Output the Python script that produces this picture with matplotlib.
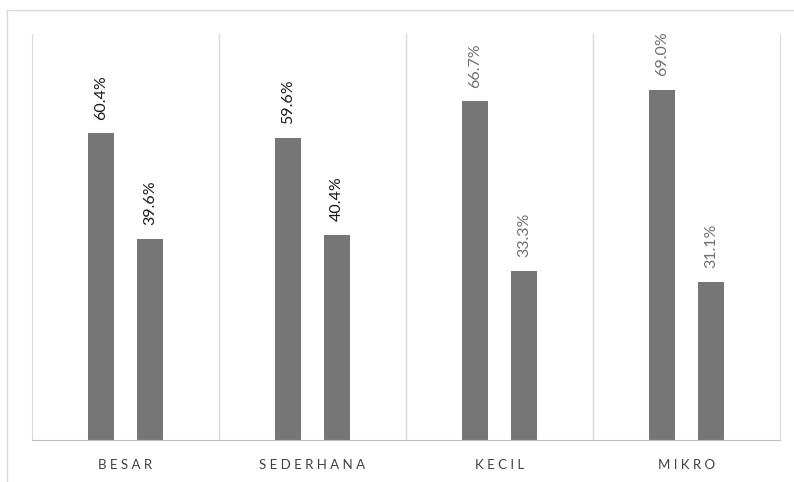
import matplotlib.pyplot as plt
from matplotlib.lines import Line2D
import numpy as np

categories = ['BESAR', 'SEDERHANA', 'KECIL', 'MIKRO']
first_share = [60.4, 59.6, 66.7, 69.0]
second_share = [39.6, 40.4, 33.3, 31.1]
label_colors = ['#1a1a1a', '#1a1a1a', '#707070', '#707070']

plt.rcParams['font.family'] = ['Lato', 'DejaVu Sans']

fig = plt.figure(figsize=(7.94, 4.82), dpi=100)
ax = fig.add_axes([32 / 794, 42 / 482, 748 / 794, 406 / 482])

x = np.arange(len(categories))
width = 0.134
offset = 0.131
bar_color = '#767676'

bars1 = ax.bar(x - offset, first_share, width, color=bar_color)
bars2 = ax.bar(x + offset, second_share, width, color=bar_color)

for bars, vals in [(bars1, first_share), (bars2, second_share)]:
    for b, v, c in zip(bars, vals, label_colors):
        ax.annotate(f'{v:.1f}%', (b.get_x() + b.get_width() / 2, v),
                    xytext=(0, 10), textcoords='offset points',
                    rotation=90, ha='center', va='bottom',
                    fontsize=11.5, color=c)

ax.set_xlim(-0.5, len(categories) - 0.5)
ax.set_ylim(0, 80)

# separators between the groups
for sep in np.arange(0.5, len(categories) - 0.5, 1):
    ax.axvline(sep, color='#d9d9d9', lw=1)

ax.spines['top'].set_visible(False)
for side in ['left', 'right']:
    ax.spines[side].set_color('#d9d9d9')
ax.spines['bottom'].set_color('#bfbfbf')

ax.set_yticks([])
ax.set_xticks(x)
ax.set_xticklabels([' '.join(c) for c in categories], fontsize=9.5,
                   color='#404040')
ax.tick_params(axis='x', length=0, pad=14)

# outer chart border
fig.add_artist(Line2D([7 / 794, 7 / 794], [0, 1 - 10 / 482],
                      color='#d9d9d9', lw=1))
fig.add_artist(Line2D([7 / 794, 1], [1 - 10 / 482, 1 - 10 / 482],
                      color='#d9d9d9', lw=1))

fig.savefig('out.png', dpi=100)
